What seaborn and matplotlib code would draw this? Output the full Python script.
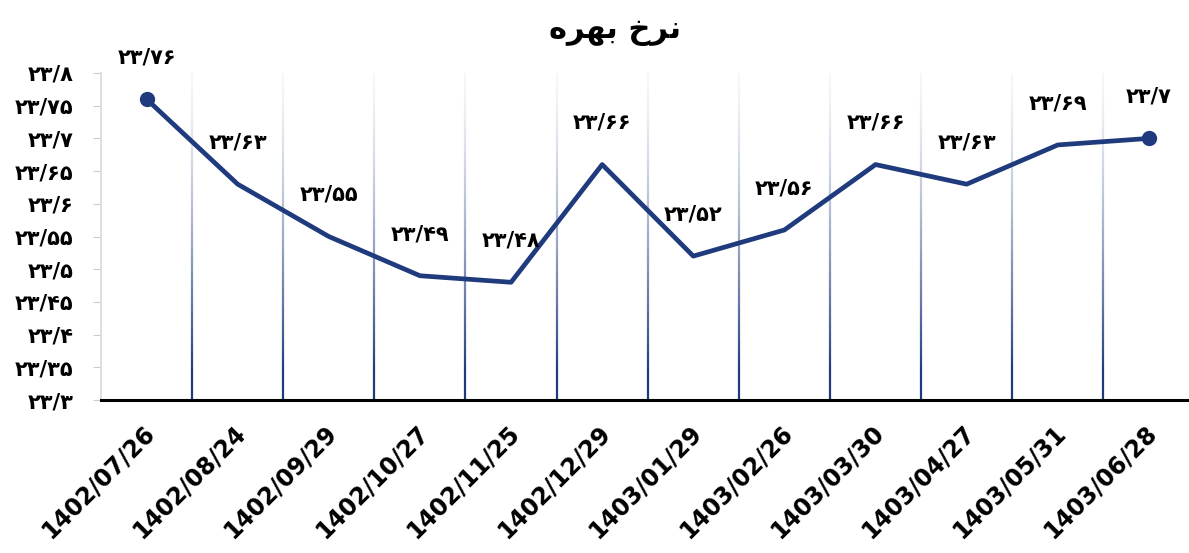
import numpy as np
import pandas as pd
import matplotlib
matplotlib.use("Agg")
import matplotlib.pyplot as plt
from matplotlib.collections import LineCollection
from matplotlib.transforms import ScaledTranslation
import seaborn as sns

# data
dates = ["1402/07/26", "1402/08/24", "1402/09/29", "1402/10/27", "1402/11/25", "1402/12/29",
         "1403/01/29", "1403/02/26", "1403/03/30", "1403/04/27", "1403/05/31", "1403/06/28"]
rates = [23.76, 23.63, 23.55, 23.49, 23.48, 23.66, 23.52, 23.56, 23.66, 23.63, 23.69, 23.70]
y_ticks = [23.3, 23.35, 23.4, 23.45, 23.5, 23.55, 23.6, 23.65, 23.7, 23.75, 23.8]

# title "نرخ بهره" written in presentation forms, visual order (no shaping in matplotlib)
title = "\uFEE9\uFEAE\uFEEC\uFE91 \uFEA5\uFEAE\uFEE7"

navy = "#1f3a7d"


def fa_num(v):
    s = f"{v:.2f}".rstrip("0").rstrip(".")
    s = s.replace(".", "/")
    return s.translate(str.maketrans("0123456789", "۰۱۲۳۴۵۶۷۸۹"))


df = pd.DataFrame({"x": np.arange(len(dates)), "rate": rates})

sns.set_style("white")
plt.rcParams['font.family'] = ['DejaVu Sans']
plt.rcParams['text.color'] = 'black'
plt.rcParams['xtick.labelcolor'] = 'black'
plt.rcParams['ytick.labelcolor'] = 'black'

fig = plt.figure(figsize=(11.89, 5.53), dpi=100)
ax = fig.add_axes([101 / 1189, 1 - 400 / 553, 1088 / 1189, 327 / 553])

# gradient separators between categories
segs, cols = [], []
ys = np.linspace(23.3, 23.8, 80)
for b in np.arange(0.5, len(dates) - 1, 1.0):
    for y0, y1 in zip(ys[:-1], ys[1:]):
        frac = 1 - ((y0 + y1) / 2 - 23.3) / 0.5
        segs.append([(b, y0), (b, y1)])
        cols.append((0.12, 0.23, 0.49, min(1.0, 0.04 + frac ** 1.5 * 1.1)))
ax.add_collection(LineCollection(segs, colors=cols, linewidths=1.6, zorder=1))

sns.lineplot(data=df, x="x", y="rate", ax=ax, color=navy, linewidth=3.4, zorder=3)
ends = df.iloc[[0, -1]]
ax.plot(ends["x"], ends["rate"], "o", color=navy, markersize=10, zorder=4)

for xi, v in zip(df["x"], rates):
    ax.annotate(fa_num(v), (xi, v), xytext=(0, 30), textcoords="offset points",
                ha="center", va="center", fontsize=15, fontweight="bold",
                color="black", annotation_clip=False)

ax.set_xlim(-0.5, 11.44)
ax.set_ylim(23.3, 23.8)
ax.set_yticks(y_ticks)
ax.set_yticklabels([fa_num(t) for t in y_ticks], fontsize=15, fontweight="bold")
ax.set_xticks(df["x"])
ax.set_xticklabels(dates, rotation=45, ha="right", rotation_mode="anchor",
                   fontsize=17, fontweight="bold")
ax.tick_params(axis="y", length=6, color="#cccccc", pad=14, left=True)
ax.tick_params(axis="x", length=0, pad=15)
for lab in ax.get_xticklabels():
    lab.set_transform(lab.get_transform() + ScaledTranslation(-0.04, 0, fig.dpi_scale_trans))
ax.set_xlabel("")
ax.set_ylabel("")

for s in ["top", "right"]:
    ax.spines[s].set_visible(False)
ax.spines["left"].set_color("#d9d9d9")
ax.spines["left"].set_linewidth(1.2)
ax.spines["bottom"].set_color("black")
ax.spines["bottom"].set_linewidth(2.2)

fig.text(615 / 1189, 1 - 32 / 553, title, ha="center", va="center", fontsize=22,
         fontweight="bold", color="black")

fig.savefig("out.png", dpi=100)
